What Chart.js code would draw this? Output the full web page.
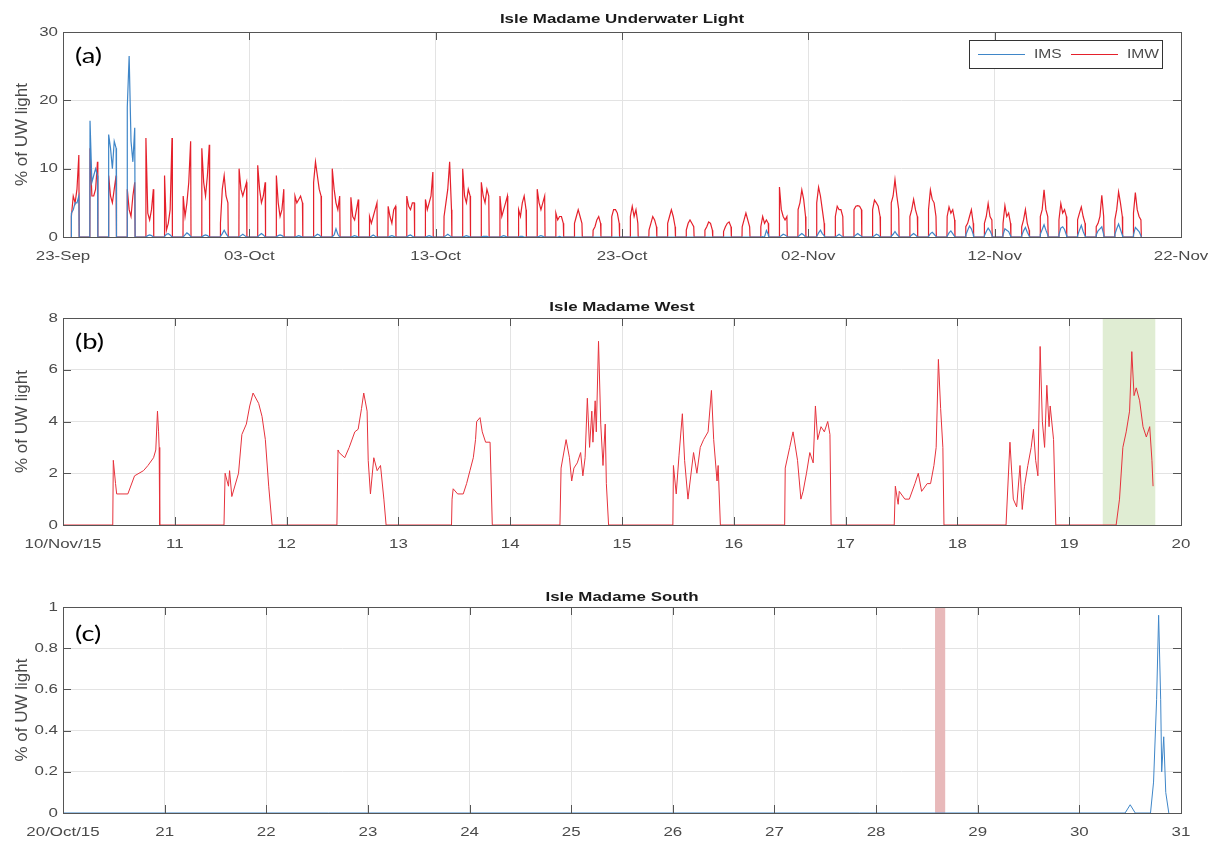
<!DOCTYPE html>
<html>
<head>
<meta charset="utf-8">
<title>Isle Madame Underwater Light</title>
<script src="https://cdn.jsdelivr.net/npm/chart.js@4.4.1/dist/chart.umd.min.js"></script>
<style>
  html, body { margin: 0; padding: 0; background: #fff; }
  #wrap { position: relative; width: 1211px; height: 841px; }
  #wrap canvas { position: absolute; left: 0; }
</style>
</head>
<body>
<div id="wrap">
  <canvas id="chartA" width="1211" height="270" style="top:0"></canvas>
  <canvas id="chartB" width="1211" height="290" style="top:270px"></canvas>
  <canvas id="chartC" width="1211" height="281" style="top:560px"></canvas>
</div>
<script>
/* ---------- data ---------- */

// (a) days counted from 23-Sep; each day has 5 daytime readings taken at these day fractions,
// the sensor reads 0 before sunrise / after sunset
const dayFrac = [0.45, 0.55, 0.65, 0.75, 0.85];
const sunrise = 0.44;
const sunset = 0.87;
const aTickLabels = ['23-Sep', '03-Oct', '13-Oct', '23-Oct', '02-Nov', '12-Nov', '22-Nov'];
const aYTicks = ['0', '10', '20', '30'];

const imwDaily = [
  [3, 6, 5, 7, 12], [13, 6, 6, 7, 11], [9, 6, 5, 7, 9], [7, 4, 3, 6, 8],
  [14.5, 3.5, 2.5, 4, 7], [9, 1, 2, 4, 14.5], [6, 3, 5, 8, 14], [13, 8, 6, 9, 13.5],
  [2, 7, 9, 6, 5], [10, 7, 6, 7, 8], [10.5, 7, 5, 6, 8], [9, 5, 3, 4, 7],
  [6, 5, 5.5, 6, 5], [8, 11, 9, 7, 6], [10, 7, 5, 4, 6], [5.8, 3, 2.5, 4, 5.5],
  [3, 2, 3, 4, 5], [4.5, 3, 2, 4, 4.5], [6, 4.5, 4, 5, 5], [5.5, 4, 5, 6, 9.5],
  [3, 5, 7, 11, 4], [10, 6, 5, 7, 6], [8, 6, 5, 7, 6], [6, 3, 4, 5, 6],
  [4, 3, 5, 6, 4], [7, 5, 4, 5, 6], [3.5, 2.5, 3, 3, 2], [2, 3, 4, 3, 2],
  [1, 1.5, 2.5, 3, 2], [3, 4, 4, 3.5, 2], [3, 4.5, 3, 4, 2], [1, 2, 3, 2.5, 1.5],
  [2, 3, 4, 3, 1.5], [1, 2, 2.5, 2, 1.5], [1, 1.5, 2.2, 2, 1], [0.8, 1.5, 2, 2.2, 1.5],
  [1.5, 2.5, 3.5, 2.5, 1.5], [1.5, 3, 2, 2.5, 2], [7.3, 4, 3, 2.5, 3], [4, 5, 6.9, 5.5, 3],
  [5, 7.3, 6, 4, 2], [3, 4.5, 4, 4, 3], [4, 4.5, 4.6, 4.5, 4], [4, 5.4, 5, 4.5, 3],
  [5, 6, 8.4, 6, 4], [3, 4, 5.5, 4, 3], [4, 6.9, 5.5, 5, 3], [3, 4.4, 3.5, 4, 2.5],
  [1.5, 2, 3, 4, 2], [2, 3, 4.9, 3, 2.5], [2, 4.6, 3, 3.5, 2], [1.5, 2.5, 4, 2, 1],
  [3, 4, 6.9, 4, 3], [2.5, 4.9, 3.5, 4, 3], [2.5, 3.5, 4.4, 3, 2], [1.5, 2, 3, 6.1, 3],
  [2.5, 4, 6.6, 5, 3], [3.5, 6.5, 4, 3, 2.5]
];

const imsDaily = [
  [3.5, 4, 5, 5, 6], [17, 8, 9, 10, 9], [15, 13, 10, 14, 13], [19, 26.5, 14, 11, 16],
  [0, 0.2, 0.3, 0.2, 0], [0.1, 0.4, 0.5, 0.3, 0], [0, 0.3, 0.6, 0.4, 0.1], [0, 0.2, 0.3, 0.2, 0],
  [0.1, 0.5, 1.0, 0.5, 0.1], [0, 0.2, 0.4, 0.2, 0], [0, 0.3, 0.5, 0.3, 0], [0, 0.2, 0.3, 0.2, 0],
  [0, 0.1, 0.2, 0.1, 0], [0, 0.2, 0.4, 0.3, 0], [0, 0.3, 1.2, 0.4, 0], [0, 0.1, 0.2, 0.1, 0],
  [0, 0.1, 0.3, 0.1, 0], [0, 0.1, 0.2, 0.1, 0], [0, 0.2, 0.3, 0.1, 0], [0, 0.1, 0.2, 0.1, 0],
  [0, 0.2, 0.4, 0.2, 0], [0, 0.1, 0.2, 0.1, 0], [0, 0.1, 0.1, 0.1, 0], [0, 0.1, 0.2, 0.1, 0],
  [0, 0.1, 0.1, 0, 0], [0, 0.1, 0.2, 0.1, 0], [0, 0, 0.1, 0, 0], [0, 0, 0, 0, 0],
  [0, 0, 0, 0, 0], [0, 0, 0, 0, 0], [0, 0, 0, 0, 0], [0, 0, 0, 0, 0],
  [0, 0, 0, 0, 0], [0, 0, 0, 0, 0], [0, 0, 0, 0, 0], [0, 0, 0, 0, 0],
  [0, 0, 0, 0, 0], [0, 0.04, 0, 0.96, 0.37], [0, 0.2, 0.4, 0.3, 0.1], [0, 0.3, 0.5, 0.3, 0],
  [0.1, 0.6, 1.0, 0.5, 0.2], [0, 0.2, 0.4, 0.2, 0], [0, 0.3, 0.5, 0.3, 0.1], [0, 0.2, 0.4, 0.3, 0],
  [0.1, 0.4, 0.8, 0.4, 0.1], [0, 0.3, 0.5, 0.3, 0], [0.1, 0.5, 0.7, 0.4, 0.1], [0.1, 0.6, 0.9, 0.5, 0.1],
  [0.3, 1.0, 1.6, 1.2, 0.4], [0.2, 0.8, 1.3, 0.9, 0.3], [0.3, 1.2, 1.0, 0.8, 0.2], [0.2, 0.9, 1.4, 0.7, 0.2],
  [0.4, 1.1, 1.8, 1.0, 0.3], [0.3, 1.3, 1.5, 1.1, 0.3], [0.2, 1.0, 1.7, 0.8, 0.2], [0.3, 0.9, 1.2, 1.5, 0.4],
  [0.4, 1.2, 1.9, 1.1, 0.3], [0.3, 1.4, 1.1, 0.8, 0.2]
];

// (b) Isle Madame West, 10-20 Nov 2015 (day of month)
const westT = [
  10.0, 10.445, 10.45, 10.47, 10.48, 10.58, 10.64, 10.72, 10.76, 10.81, 10.83, 10.845, 10.855, 10.86, 10.865,
  11.44, 11.45, 11.48, 11.49, 11.51, 11.57, 11.60, 11.64, 11.67, 11.70, 11.75, 11.78, 11.81, 11.84, 11.87, 11.88,
  12.45, 12.46, 12.47, 12.52, 12.56, 12.61, 12.64, 12.67, 12.69, 12.72, 12.73, 12.75, 12.78, 12.81, 12.84, 12.87, 12.89,
  13.475, 13.48, 13.49, 13.53, 13.58, 13.61, 13.64, 13.67, 13.69, 13.70, 13.73, 13.75, 13.78, 13.82, 13.84,
  14.445, 14.455, 14.50, 14.53, 14.55, 14.57, 14.60, 14.63, 14.65, 14.67, 14.69, 14.71, 14.73, 14.74, 14.76, 14.77,
  14.79, 14.81, 14.83, 14.85, 14.86, 14.88,
  15.455, 15.46, 15.485, 15.51, 15.54, 15.56, 15.59, 15.64, 15.67, 15.70, 15.73, 15.77, 15.80, 15.82, 15.85, 15.86, 15.88,
  16.455, 16.46, 16.50, 16.53, 16.57, 16.60, 16.62, 16.65, 16.68, 16.71, 16.73, 16.75, 16.78, 16.81, 16.84, 16.86, 16.87,
  17.435, 17.445, 17.47, 17.48, 17.53, 17.57, 17.62, 17.65, 17.68, 17.73, 17.76, 17.79, 17.81, 17.83, 17.85, 17.87, 17.88,
  18.435, 18.47, 18.50, 18.53, 18.56, 18.58, 18.60, 18.63, 18.66, 18.68, 18.70, 18.72, 18.74, 18.76, 18.78, 18.80,
  18.82, 18.83, 18.86, 18.88,
  19.42, 19.45, 19.48, 19.51, 19.54, 19.56, 19.58, 19.60, 19.63, 19.66, 19.69, 19.72, 19.74, 19.75
];
const westV = [
  0, 0, 2.5, 1.6, 1.2, 1.2, 1.9, 2.1, 2.3, 2.6, 2.9, 4.4, 3.6, 3.0, 0,
  0, 2.0, 1.5, 2.1, 1.1, 2.0, 3.5, 3.9, 4.6, 5.1, 4.7, 4.2, 3.3, 1.5, 0, 0,
  0, 2.9, 2.8, 2.6, 3.0, 3.6, 3.7, 4.5, 5.1, 4.4, 2.5, 1.2, 2.6, 2.1, 2.3, 1.0, 0,
  0, 1.0, 1.4, 1.2, 1.2, 1.6, 2.1, 2.6, 3.3, 4.0, 4.15, 3.6, 3.2, 3.2, 0,
  0, 2.2, 3.3, 2.6, 1.7, 2.2, 2.4, 2.8, 1.9, 2.6, 4.9, 3.0, 4.4, 3.2, 4.8, 3.6,
  7.1, 3.9, 2.3, 3.9, 1.6, 0,
  0, 2.3, 1.2, 2.7, 4.3, 2.5, 1.0, 2.8, 2.0, 3.0, 3.3, 3.6, 5.2, 3.3, 1.7, 2.3, 0,
  0, 2.2, 3.0, 3.6, 2.5, 1.0, 1.3, 2.0, 2.8, 2.4, 4.6, 3.3, 3.8, 3.6, 4.0, 3.5, 0,
  0, 1.5, 0.8, 1.3, 1.0, 1.0, 1.6, 2.0, 1.3, 1.6, 1.6, 2.3, 3.0, 6.4, 4.5, 3.0, 0,
  0, 3.2, 1.0, 0.7, 2.3, 0.6, 1.5, 2.3, 3.0, 3.7, 2.5, 1.9, 6.9, 4.0, 3.0, 5.4,
  3.8, 4.6, 3.3, 0,
  0, 1.0, 3.0, 3.6, 4.4, 6.7, 5.0, 5.3, 4.8, 3.8, 3.4, 3.8, 2.5, 1.5
];
const bTickLabels = ['10/Nov/15', '11', '12', '13', '14', '15', '16', '17', '18', '19', '20'];
const bYTicks = ['0', '2', '4', '6', '8'];
const westBand = [19.30, 19.77];

// (c) Isle Madame South, 20-31 Oct 2015
const southT = [20.0, 30.45, 30.50, 30.55, 30.70, 30.73, 30.76, 30.78, 30.80, 30.81, 30.83, 30.85, 30.88];
const southV = [0, 0, 0.04, 0, 0, 0.15, 0.55, 0.96, 0.55, 0.2, 0.37, 0.1, 0];
const cTickLabels = ['20/Oct/15', '21', '22', '23', '24', '25', '26', '27', '28', '29', '30', '31'];
const cYTicks = ['0', '0.2', '0.4', '0.6', '0.8', '1'];
const southBand = [28.58, 28.68];

/* ---------- helpers ---------- */
const IMS_COLOR = '#3f86c8';
const IMW_COLOR = '#e5202b';
const AXIS_COLOR = '#555555';
const GRID_COLOR = '#e3e3e3';
const TEXT_STRETCH = 1.3; // labels in the figure are wide

function dailyPoints(days) {
    const pts = [];
    days.forEach((vals, d) => {
        pts.push({ x: d + sunrise, y: 0 });
        vals.forEach((v, i) => pts.push({ x: d + dayFrac[i], y: v }));
        pts.push({ x: d + sunset, y: 0 });
    });
    return pts;
}

function pairPoints(ts, vs) {
    return ts.map((t, i) => ({ x: t, y: vs[i] }));
}

function wideText(ctx, txt, x, y, align) {
    ctx.save();
    ctx.translate(x, y);
    ctx.scale(TEXT_STRETCH, 1);
    ctx.textAlign = align;
    ctx.fillText(txt, 0, 0);
    ctx.restore();
}

// shaded time windows, drawn over the grid, under the lines
const bandPlugin = {
    id: 'bands',
    beforeDatasetsDraw(chart, args, opts) {
        if (!opts.list) return;
        const { ctx, chartArea, scales } = chart;
        opts.list.forEach(b => {
            const x1 = scales.x.getPixelForValue(b.range[0]);
            const x2 = scales.x.getPixelForValue(b.range[1]);
            ctx.fillStyle = b.color;
            ctx.fillRect(x1, chartArea.top, x2 - x1, chartArea.bottom - chartArea.top);
        });
    }
};

// matlab-like box, inward ticks, labels, titles
const axesPlugin = {
    id: 'matlabAxes',
    afterDatasetsDraw(chart, args, opts) {
        const { ctx, chartArea: a, scales } = chart;
        const tickLen = 8;
        ctx.save();
        ctx.strokeStyle = AXIS_COLOR;
        ctx.lineWidth = 1;
        ctx.strokeRect(a.left + 0.5, a.top + 0.5, a.right - a.left, a.bottom - a.top);

        ctx.beginPath();
        scales.x.ticks.forEach(t => {
            const px = Math.round(scales.x.getPixelForValue(t.value)) + 0.5;
            ctx.moveTo(px, a.bottom); ctx.lineTo(px, a.bottom - tickLen);
            ctx.moveTo(px, a.top); ctx.lineTo(px, a.top + tickLen);
        });
        scales.y.ticks.forEach(t => {
            const py = Math.round(scales.y.getPixelForValue(t.value)) + 0.5;
            ctx.moveTo(a.left, py); ctx.lineTo(a.left + tickLen, py);
            ctx.moveTo(a.right, py); ctx.lineTo(a.right - tickLen, py);
        });
        ctx.stroke();

        // tick labels
        ctx.fillStyle = '#4a4a4a';
        ctx.font = '13px "Liberation Sans", Arial, sans-serif';
        ctx.textBaseline = 'middle';
        scales.x.ticks.forEach((t, i) => {
            wideText(ctx, opts.xLabels[i], scales.x.getPixelForValue(t.value), a.bottom + 19, 'center');
        });
        scales.y.ticks.forEach((t, i) => {
            wideText(ctx, opts.yLabels[i], a.left - 5, scales.y.getPixelForValue(t.value), 'right');
        });

        // y axis title
        ctx.save();
        ctx.translate(22, (a.top + a.bottom) / 2);
        ctx.rotate(-Math.PI / 2);
        ctx.font = '17px "Liberation Sans", Arial, sans-serif';
        ctx.fillStyle = '#4a4a4a';
        ctx.textAlign = 'center';
        ctx.fillText('% of UW light', 0, 0);
        ctx.restore();

        // title
        ctx.fillStyle = '#1a1a1a';
        ctx.font = 'bold 13px "Liberation Sans", Arial, sans-serif';
        wideText(ctx, opts.title, (a.left + a.right) / 2, opts.titleY, 'center');

        // panel tag
        ctx.fillStyle = '#000';
        ctx.font = '21px Lato, "Open Sans", sans-serif';
        wideText(ctx, opts.tag, 75, opts.tagY, 'left');

        // legend box
        if (opts.legend) {
            ctx.fillStyle = '#fff';
            ctx.fillRect(969, 40, 193, 28);
            ctx.strokeStyle = '#333';
            ctx.strokeRect(969.5, 40.5, 193, 28);
            ctx.font = '12px "Liberation Sans", Arial, sans-serif';
            opts.legend.forEach(item => {
                ctx.strokeStyle = item.color;
                ctx.beginPath();
                ctx.moveTo(item.x, 54.5); ctx.lineTo(item.x + 47, 54.5);
                ctx.stroke();
                ctx.fillStyle = '#4a4a4a';
                wideText(ctx, item.label, item.x + 56, 55, 'left');
            });
        }
        ctx.restore();
    }
};

function buildPanel(id, cfg) {
    const lineDefaults = { borderWidth: cfg.lineWidth || 1, pointRadius: 0, tension: 0, fill: false };
    return new Chart(document.getElementById(id), {
        type: 'line',
        data: {
            datasets: cfg.series.map(s => Object.assign({}, lineDefaults, {
                label: s.label, data: s.points, borderColor: s.color
            }))
        },
        options: {
            responsive: false,
            animation: false,
            devicePixelRatio: 1,
            layout: { padding: { top: cfg.padTop, right: 30, left: 0, bottom: 0 } },
            plugins: {
                legend: { display: false },
                tooltip: { enabled: false },
                bands: { list: cfg.bands },
                matlabAxes: {
                    title: cfg.title, titleY: cfg.titleY, tag: cfg.tag, tagY: cfg.tagY,
                    xLabels: cfg.xLabels, yLabels: cfg.yLabels, legend: cfg.legend
                }
            },
            scales: {
                x: {
                    type: 'linear', min: cfg.xMin, max: cfg.xMax,
                    ticks: { stepSize: cfg.xStep, display: false, autoSkip: false },
                    grid: { color: GRID_COLOR, drawTicks: false },
                    border: { display: false },
                    afterFit(s) { s.height = cfg.xAxisH; }
                },
                y: {
                    min: cfg.yMin, max: cfg.yMax,
                    ticks: { stepSize: cfg.yStep, display: false },
                    grid: { color: GRID_COLOR, drawTicks: false },
                    border: { display: false },
                    afterFit(s) { s.width = 63; }
                }
            }
        },
        plugins: [bandPlugin, axesPlugin]
    });
}

/* ---------- panels ---------- */
buildPanel('chartA', {
    series: [
        { label: 'IMS', points: dailyPoints(imsDaily), color: IMS_COLOR },
        { label: 'IMW', points: dailyPoints(imwDaily), color: IMW_COLOR }
    ],
    lineWidth: 1.2,
    xMin: 0, xMax: 60, xStep: 10, xLabels: aTickLabels,
    yMin: 0, yMax: 30, yStep: 10, yLabels: aYTicks,
    padTop: 32, xAxisH: 33,
    title: 'Isle Madame Underwater Light', titleY: 19,
    tag: '(a)', tagY: 56,
    legend: [
        { label: 'IMS', color: IMS_COLOR, x: 978 },
        { label: 'IMW', color: IMW_COLOR, x: 1071 }
    ]
});

buildPanel('chartB', {
    series: [{ label: 'IMW', points: pairPoints(westT, westV), color: '#e6323c' }],
    xMin: 10, xMax: 20, xStep: 1, xLabels: bTickLabels,
    yMin: 0, yMax: 8, yStep: 2, yLabels: bYTicks,
    padTop: 48, xAxisH: 35,
    title: 'Isle Madame West', titleY: 37.5,
    tag: '(b)', tagY: 72.5,
    bands: [{ range: westBand, color: '#e0edd3' }]
});

buildPanel('chartC', {
    series: [{ label: 'IMS', points: pairPoints(southT, southV), color: IMS_COLOR }],
    xMin: 20, xMax: 31, xStep: 1, xLabels: cTickLabels,
    yMin: 0, yMax: 1, yStep: 0.2, yLabels: cYTicks,
    padTop: 47, xAxisH: 28,
    title: 'Isle Madame South', titleY: 37,
    tag: '(c)', tagY: 74,
    bands: [{ range: southBand, color: '#e8b9ba' }]
});
</script>
</body>
</html>
